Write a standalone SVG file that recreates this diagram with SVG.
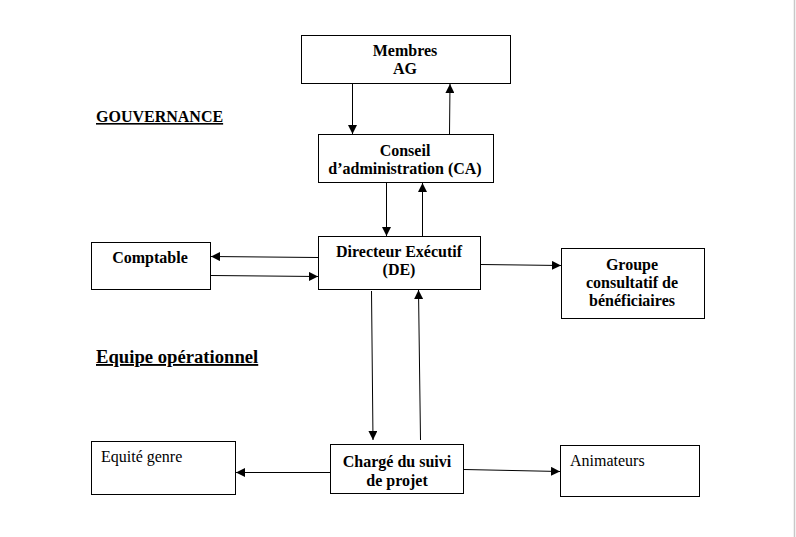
<svg xmlns="http://www.w3.org/2000/svg" width="796" height="537" viewBox="0 0 796 537">
<defs>
<style>
.box{fill:#fff;stroke:#000;stroke-width:1}
.t{font-family:"Liberation Serif","Times New Roman",serif;font-size:16px;font-weight:bold;fill:#000;text-anchor:middle}
.n{font-family:"Liberation Serif","Times New Roman",serif;font-size:16px;fill:#000}
.h{font-family:"Liberation Serif","Times New Roman",serif;font-weight:bold;fill:#000;text-decoration:underline}
.c{stroke:#000;stroke-width:1;fill:none;marker-end:url(#ah)}
</style>
<marker id="ah" viewBox="0 0 10 10" refX="10" refY="5" markerWidth="9" markerHeight="9" markerUnits="userSpaceOnUse" orient="auto">
<path d="M0,0 L10,5 L0,10 z" fill="#000"/>
</marker>
</defs>
<rect width="796" height="537" fill="#fff"/>
<line x1="794.5" y1="0" x2="794.5" y2="537" stroke="#c8c8c8" stroke-width="1.5"/>
<text class="h" x="96" y="122" style="font-size:16px">GOUVERNANCE</text>
<text class="h" x="96" y="363" style="font-size:18.67px">Equipe opérationnel</text>
<g id="ag">
<rect class="box" x="301.5" y="35.5" width="209" height="48"/>
<text class="t" x="405" y="56">Membres</text>
<text class="t" x="405" y="74">AG</text>
</g>
<g id="ca">
<rect class="box" x="318.5" y="134.5" width="175" height="48"/>
<text class="t" x="405" y="156">Conseil</text>
<text class="t" x="405" y="174">d’administration (CA)</text>
</g>
<g id="de">
<rect class="box" x="318.5" y="236.5" width="162" height="53"/>
<text class="t" x="399" y="257">Directeur Exécutif</text>
<text class="t" x="399" y="275">(DE)</text>
</g>
<g id="comptable">
<rect class="box" x="91.5" y="242.5" width="119" height="47"/>
<text class="t" x="150" y="263">Comptable</text>
</g>
<g id="groupe">
<rect class="box" x="561.5" y="248.5" width="143" height="70"/>
<text class="t" x="632" y="270">Groupe</text>
<text class="t" x="632" y="288">consultatif de</text>
<text class="t" x="632" y="306">bénéficiaires</text>
</g>
<g id="equite">
<rect class="box" x="91.5" y="441.5" width="144" height="53"/>
<text class="n" x="101" y="462">Equité genre</text>
</g>
<g id="charge">
<rect class="box" x="330.5" y="444.5" width="133" height="49"/>
<text class="t" x="397" y="467">Chargé du suivi</text>
<text class="t" x="397" y="486">de projet</text>
</g>
<g id="animateurs">
<rect class="box" x="560.5" y="445.5" width="139" height="51"/>
<text class="n" x="570" y="466">Animateurs</text>
</g>
<g id="connectors">
<line class="c" x1="352.5" y1="84" x2="352.5" y2="134"/>
<line class="c" x1="449.5" y1="134" x2="450" y2="84"/>
<line class="c" x1="386.5" y1="183" x2="386.5" y2="236"/>
<line class="c" x1="422.5" y1="236" x2="422.5" y2="183"/>
<line class="c" x1="318" y1="257.5" x2="211" y2="256.5"/>
<line class="c" x1="211" y1="275.5" x2="318" y2="276.5"/>
<line class="c" x1="481" y1="264.5" x2="561" y2="265.5"/>
<line class="c" x1="371.5" y1="291" x2="373" y2="440"/>
<line class="c" x1="420.5" y1="440" x2="418.5" y2="290"/>
<line class="c" x1="330" y1="472.5" x2="236" y2="472.5"/>
<line class="c" x1="464" y1="469.5" x2="560" y2="471.5"/>
</g>
</svg>
